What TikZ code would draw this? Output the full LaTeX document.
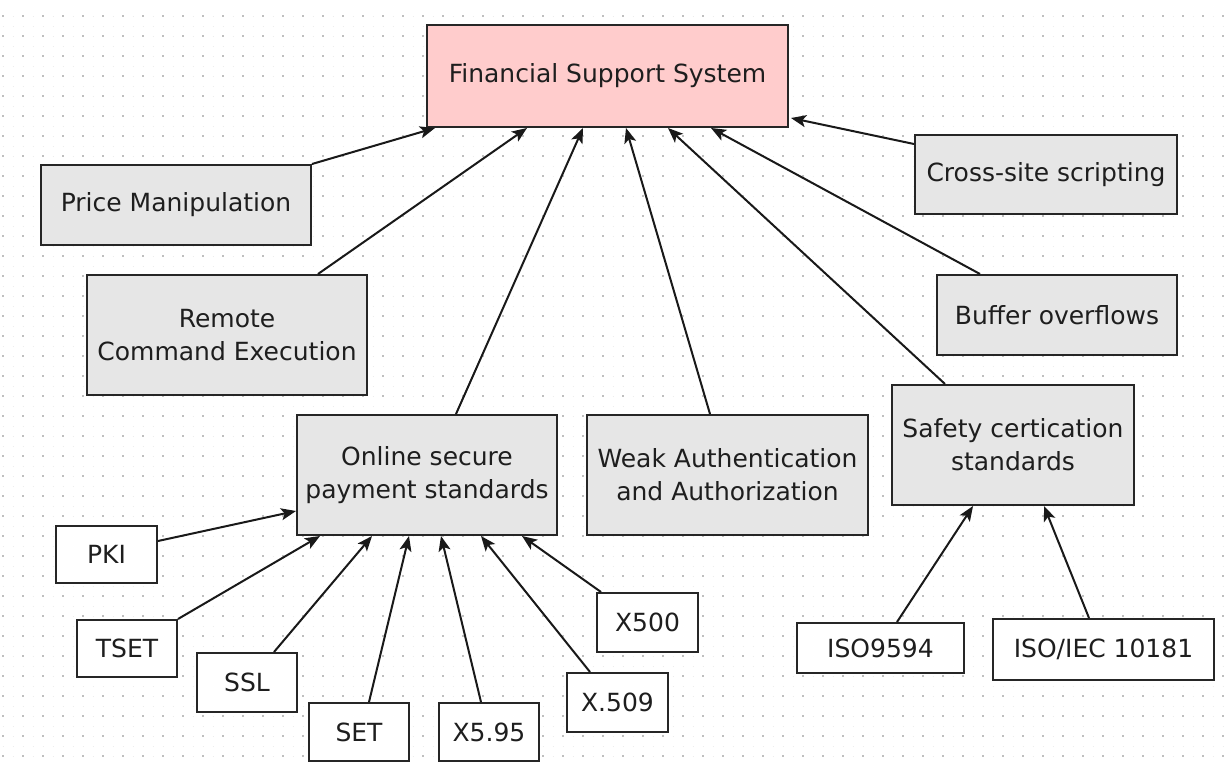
\documentclass[tikz,border=0pt]{standalone}
\usepackage{fontspec}
\setmainfont{DejaVu Sans}
\usetikzlibrary{arrows.meta,calc}
\definecolor{boxgray}{HTML}{E6E6E6}
\definecolor{boxpink}{HTML}{FFCCCC}
\definecolor{edgecol}{HTML}{262626}
\definecolor{txtcol}{HTML}{1E1E1E}
\begin{document}
\begin{tikzpicture}[x=1pt,y=-1pt,
  basebox/.style={draw=edgecol,line width=2pt,inner sep=0pt,align=center,
    text=txtcol,font=\fontsize{25}{33}\selectfont},
  graybox/.style={basebox,fill=boxgray},
  pinkbox/.style={basebox,fill=boxpink},
  whitebox/.style={basebox,fill=white},
  conn/.style={draw=black!90,line width=2pt,-{Stealth[length=15pt,width=12pt,inset=3.5pt]}}]
\useasboundingbox (0,0) rectangle (1232,763);
\fill[white] (0,0) rectangle (1232,763);
% dotted grid (dashed rows give the dots)
\foreach \j in {0,...,74}{\draw[black!7,line width=1pt,dash pattern=on 1pt off 9pt] (2.5,16+10*\j) -- (1232,16+10*\j);}
\foreach \j in {0,...,37}{\draw[black!25,line width=1.6pt,dash pattern=on 1.6pt off 18.4pt] (2.2,16+20*\j) -- (1232,16+20*\j);}
% nodes
\node[pinkbox,minimum width=361pt,minimum height=102pt] (fin) at (607.5,76) {Financial Support System};
\node[graybox,minimum width=262pt,minimum height=79pt] (cross) at (1046,174.5) {Cross-site scripting};
\node[graybox,minimum width=270pt,minimum height=80pt] (price) at (176,205) {Price Manipulation};
\node[graybox,minimum width=240pt,minimum height=80pt] (buffer) at (1057,315) {Buffer overflows};
\node[graybox,minimum width=280pt,minimum height=120pt] (remote) at (227,335) {Remote\\Command Execution};
\node[graybox,minimum width=242pt,minimum height=120pt] (safety) at (1013,445) {Safety certication\\standards};
\node[graybox,minimum width=260pt,minimum height=120pt] (online) at (427,475) {Online secure\\payment standards};
\node[graybox,minimum width=281pt,minimum height=120pt] (weak) at (727.5,475) {Weak Authentication\\and Authorization};
\node[whitebox,minimum width=101pt,minimum height=57pt] (pki) at (106.5,554.5) {PKI};
\node[whitebox,minimum width=100pt,minimum height=57pt] (tset) at (127,648.5) {TSET};
\node[whitebox,minimum width=100pt,minimum height=59pt] (ssl) at (247,682.5) {SSL};
\node[whitebox,minimum width=100pt,minimum height=58pt] (set) at (359,732) {SET};
\node[whitebox,minimum width=100pt,minimum height=58pt] (x595) at (489,732) {X5.95};
\node[whitebox,minimum width=101pt,minimum height=59pt] (x509) at (617.5,702.5) {X.509};
\node[whitebox,minimum width=101pt,minimum height=59pt] (x500) at (647.5,622.5) {X500};
\node[whitebox,minimum width=167pt,minimum height=50pt] (iso9594) at (880.5,648) {ISO9594};
\node[whitebox,minimum width=221pt,minimum height=61pt] (isoiec) at (1103.5,649.5) {ISO/IEC 10181};
% connectors to Financial Support System
\draw[conn] (price.north east) -- ($(fin.south west)+(9,0)$);
\draw[conn] ($(remote.north west)+(232,0)$) -- ($(fin.south west)+(101,0)$);
\draw[conn] ($(online.north west)+(160,0)$) -- ($(fin.south west)+(157,0)$);
\draw[conn] ($(weak.north west)+(124,0)$) -- ($(fin.south west)+(200,0)$);
\draw[conn] ($(safety.north west)+(54,0)$) -- ($(fin.south west)+(242,0)$);
\draw[conn] ($(buffer.north west)+(44,0)$) -- ($(fin.south west)+(285,0)$);
\draw[conn] ($(cross.north west)+(0,10)$) -- ($(fin.south east)+(2,-10)$);
% connectors to Online secure payment standards
\draw[conn] ($(pki.north east)+(0,16)$) -- ($(online.south west)+(0,-25)$);
\draw[conn] (tset.north east) -- ($(online.south west)+(24,0)$);
\draw[conn] ($(ssl.north west)+(78,0)$) -- ($(online.south west)+(76,0)$);
\draw[conn] ($(set.north west)+(61,0)$) -- ($(online.south west)+(113,0)$);
\draw[conn] ($(x595.north west)+(43,0)$) -- ($(online.south west)+(145,0)$);
\draw[conn] ($(x509.north west)+(24,0)$) -- ($(online.south west)+(185,0)$);
\draw[conn] ($(x500.north west)+(5,0)$) -- ($(online.south west)+(226,0)$);
% connectors to Safety certication standards
\draw[conn] ($(iso9594.north west)+(101,0)$) -- ($(safety.south west)+(82,0)$);
\draw[conn] ($(isoiec.north west)+(97,0)$) -- ($(safety.south west)+(153,0)$);
\end{tikzpicture}
\end{document}
